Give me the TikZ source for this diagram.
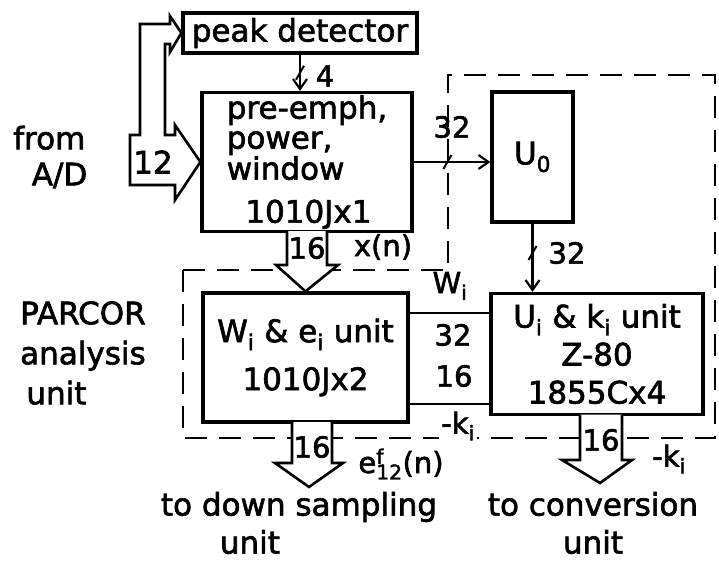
\documentclass[tikz,border=0pt]{standalone}
\usepackage{fontspec}
\setmainfont{DejaVu Sans}[FakeBold=2]
\usetikzlibrary{arrows.meta, calc}
\tikzset{
    % heavy outlined boxes
    block/.style={
        rectangle,
        draw=black,
        fill=white,
        line width=3.2pt,
        inner sep=0pt,
        align=center,
        font=\fontsize{31}{38}\selectfont
    },
    label text/.style={
        inner sep=0pt,
        font=\fontsize{31}{36}\selectfont
    },
    small label/.style={
        inner sep=0pt,
        font=\fontsize{29}{34}\selectfont
    },
    signal/.style={
        -{Straight Barb[length=10pt,width=14pt,line width=2.2pt]},
        line width=2.4pt
    },
    plain line/.style={line width=2.4pt},
    fat arrow/.style={
        draw=black,
        fill=white,
        line width=2.6pt,
        line join=miter
    },
    unit border/.style={
        dash pattern=on 22pt off 12pt,
        line width=2.4pt
    },
    pics/bustick/.style={
        code={\draw[line width=2pt] (-4,7) -- (4,-7);}
    }
}
\begin{document}
\begin{tikzpicture}[x=1pt, y=-1pt]
    \useasboundingbox (0,0) rectangle (719,561);

    % PARCOR analysis unit boundary
    \draw[unit border] (183,270) -- (448,270) -- (448,75) -- (715,75)
        -- (715,438) -- (183,438) -- cycle;

    % Boxes
    \node[block, minimum width=234pt, minimum height=40pt] (peak) at (300,33) {peak detector};
    \node[block, minimum width=210pt, minimum height=139pt, align=left,
          font=\fontsize{31}{30}\selectfont] (pre) at (307,162)
        {pre-emph,\\power,\\window\\[13pt]\hspace*{0.6em}1010Jx1};
    \node[block, minimum width=81pt, minimum height=130pt] (uo) at (532.5,157) {U\textsubscript{0}};
    \node[block, minimum width=205pt, minimum height=129pt] (wi) at (305.5,357.5)
        {W\textsubscript{i} \& e\textsubscript{i} unit\\[10pt]1010Jx2};
    \node[block, minimum width=212pt, minimum height=121pt] (ui) at (597,354)
        {U\textsubscript{i} \& k\textsubscript{i} unit\\Z-80\\1855Cx4};

    % Outer labels
    \node[label text, align=left, anchor=west] (from) at (13,157) {from\\\hspace*{0.6em}A/D};
    \node[label text, align=left, anchor=west, font=\fontsize{31}{40}\selectfont] (parcor) at (20,353)
        {PARCOR\\analysis\\\hspace*{0.2em}unit};
    \node[label text, align=left, font=\fontsize{31}{38}\selectfont] (down) at (299,523)
        {to down sampling\\\hspace*{1.9em}unit};
    \node[label text, align=center, font=\fontsize{31}{38}\selectfont] (conv) at (593,523)
        {to conversion\\unit};

    % Input from A/D, branching to the peak detector
    \draw[fat arrow] (130,185) -- (175,185) -- (175,200) -- (pre.west) -- (175,125)
        -- (175,135) -- (165,135) -- (165,44) -- (170,44) -- (170,52) -- (peak.west)
        -- (170,16) -- (170,24) -- (140,24) -- (140,135) -- (130,135) -- cycle;
    \node[label text] (in12) at (153,162) {12};

    % Fat arrow into the W_i & e_i unit
    \draw[fat arrow] (287,231) -- (287,265) -- (276,265) -- (wi.north)
        -- (338,265) -- (327,265) -- (327,231);
    \node[small label] (in16) at (307,248) {16};
    \node[small label] (xn) at (383,247) {x(n)};

    % Fat arrows leaving the unit
    \coordinate (downout) at (309,487);
    \coordinate (convout) at (600,483);
    \draw[fat arrow] (292,422) -- (292,463) -- (275,463) -- (downout)
        -- (343,463) -- (332,463) -- (332,422);
    \node[small label] (out16a) at (312,447) {16};
    \node[small label] (efn) at (401,464) {e\rlap{\textsuperscript{f}}\textsubscript{12}(n)};
    \draw[fat arrow] (580,414.5) -- (580,460) -- (562,460) -- (convout)
        -- (632,460) -- (622,460) -- (622,414.5);
    \node[small label] (out16b) at (601,440) {16};
    \node[small label] (kright) at (669,459) {-k\textsubscript{i}};
    \node[small label, fill=white, inner sep=2pt] (kleft) at (458,426) {-k\textsubscript{i}};

    % Bus connections
    \draw[signal] (peak.south) -- coordinate[pos=0.5] (t4) (peak.south |- pre.north);
    \pic at (t4) {bustick};
    \node[small label] (n4) at (325,76) {4};

    \draw[signal] (pre.east) -- coordinate[pos=0.44] (t32a) (pre.east -| uo.west);
    \pic at (t32a) {bustick};
    \node[small label] (n32a) at (452,127) {32};

    \draw[signal] (uo.south) -- coordinate[pos=0.43] (t32b) (uo.south |- ui.north);
    \pic at (t32b) {bustick};
    \node[small label] (n32b) at (567,253) {32};

    % Links between W_i & e_i unit and U_i & k_i unit
    \draw[plain line] ($(wi.east)+(0,-44.5)$) -- ($(ui.west)+(0,-41)$);
    \draw[plain line] ($(wi.east)+(0,46.5)$) -- ($(ui.west)+(0,50)$);
    \node[small label] (wlab) at (450,286) {W\textsubscript{i}};
    \node[small label] (n32c) at (453,335) {32};
    \node[small label] (n16c) at (454,376) {16};
\end{tikzpicture}
\end{document}
